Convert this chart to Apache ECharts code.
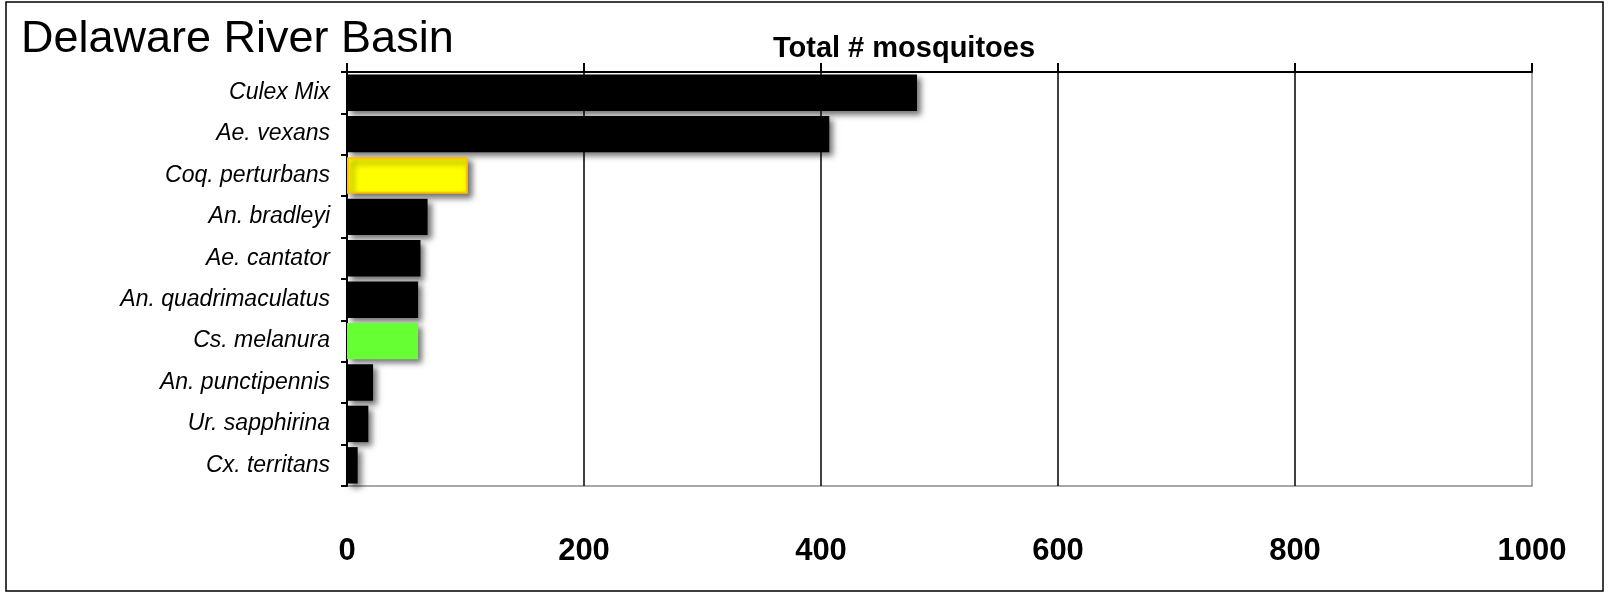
<!DOCTYPE html>
<html><head><meta charset="utf-8">
<script src="https://cdn.jsdelivr.net/npm/echarts@6/dist/echarts.min.js"></script>
<style>html,body{margin:0;padding:0;background:#fff}#c{width:1608px;height:594px}</style>
</head><body><div id="c"></div>
<script>
const categories = ['Culex Mix','Ae. vexans','Coq. perturbans','An. bradleyi','Ae. cantator','An. quadrimaculatus','Cs. melanura','An. punctipennis','Ur. sapphirina','Cx. territans'];
const totals = [481, 407, 102, 68, 62, 60, 60, 22, 18, 9];
const barColors = ['#000000','#000000','#FFFF00','#000000','#000000','#000000','#66FF33','#000000','#000000','#000000'];
const barBorders = ['#000000','#000000','#FFC000','#000000','#000000','#000000','#66FF33','#000000','#000000','#000000'];
const xTicks = [0, 200, 400, 600, 800, 1000];
const titleText = 'Delaware River Basin';
const axisTitle = 'Total # mosquitoes';

const chart = echarts.init(document.getElementById('c'));
const font = '"Liberation Sans", Arial, sans-serif';
chart.setOption({
  animation: false,
  backgroundColor: '#fff',
  title: [{text: titleText, left: 16, top: 12, textStyle: {fontFamily: font, fontSize: 45, fontWeight: 'normal', color: '#000'}},
          {text: axisTitle, left: 899, textAlign: 'center', top: 29, textStyle: {fontFamily: font, fontSize: 29, fontWeight: 'bold', color: '#000'}}],
  graphic: [{type: 'rect', shape: {x: 6, y: 2, width: 1597, height: 589}, style: {fill: 'none', stroke: '#000', lineWidth: 1.5}, silent: true}],
  grid: {left: 347, right: 76, top: 72, bottom: 108, show: true, borderColor: '#8c8c8c', borderWidth: 1.5},
  xAxis: [{
    type: 'value', position: 'bottom', min: xTicks[0], max: xTicks[xTicks.length-1], interval: 200,
    axisLine: {show: false}, axisTick: {show: false},
    axisLabel: {margin: 50, fontFamily: font, fontSize: 31, fontWeight: 'bold', color: '#000', formatter: v => String(v)},
    splitLine: {show: true, showMinLine: false, showMaxLine: false, lineStyle: {color: '#000', width: 1.5}}
  }, {
    type: 'value', position: 'top', min: xTicks[0], max: xTicks[xTicks.length-1], interval: 200,
    axisLine: {show: true, lineStyle: {color: '#000', width: 2}},
    axisTick: {show: true, inside: false, length: 9, lineStyle: {color: '#000', width: 2}},
    axisLabel: {show: false}, splitLine: {show: false}
  }],
  yAxis: {
    type: 'category', data: categories, inverse: true,
    axisLine: {show: true, lineStyle: {color: '#000', width: 2}},
    axisTick: {show: true, length: 6, lineStyle: {color: '#000', width: 2}},
    axisLabel: {margin: 17, fontFamily: font, fontSize: 23, fontStyle: 'italic', color: '#000'}
  },
  series: [{
    type: 'bar', xAxisIndex: 0, barCategoryGap: '12%',
    data: totals.map((v, i) => ({value: v, itemStyle: {color: barColors[i], borderColor: barBorders[i], borderWidth: i === 2 ? 2 : 0}})),
    itemStyle: {shadowBlur: 6, shadowColor: 'rgba(0,0,0,0.55)', shadowOffsetX: 4, shadowOffsetY: 4}
  }]
});
</script></body></html>
